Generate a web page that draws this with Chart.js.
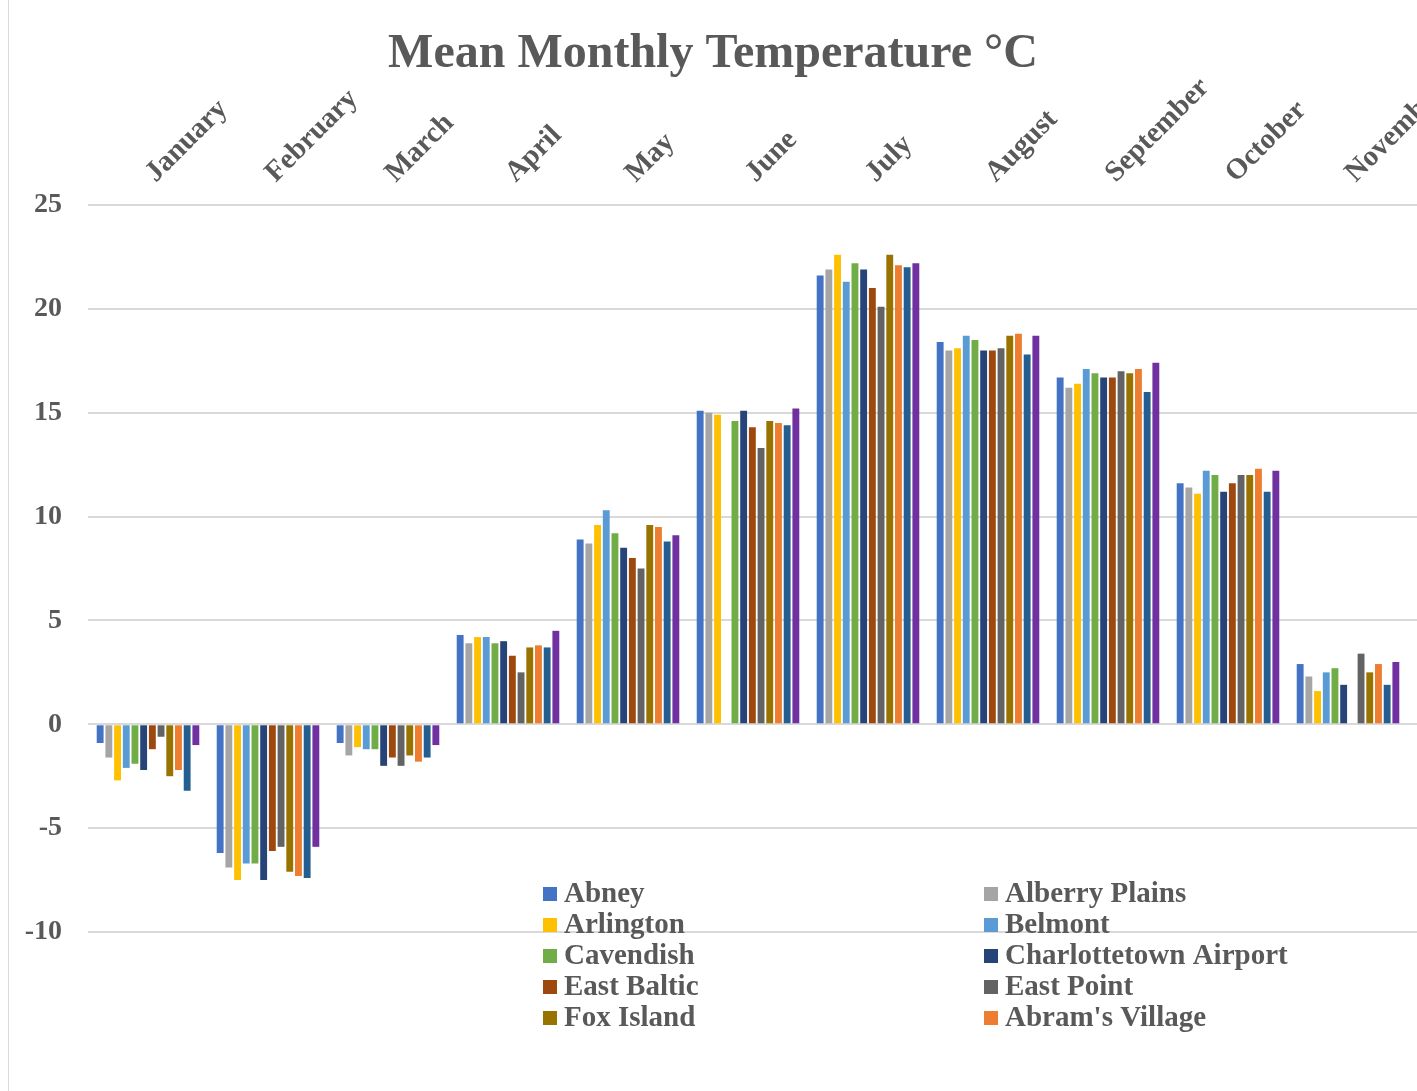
<!DOCTYPE html>
<html>
<head>
<meta charset="utf-8">
<script src="https://cdn.jsdelivr.net/npm/chart.js@4.4.1/dist/chart.umd.min.js"></script>
<style>
  html, body { margin: 0; padding: 0; overflow: hidden; background: #ffffff; width: 1417px; height: 1091px; }
  #wrap { position: relative; width: 1600px; height: 1091px; }
</style>
</head>
<body>
<div id="wrap"><canvas id="c" width="1600" height="1091"></canvas></div>
<script>
// ---------- DATA ----------
const TITLE = 'Mean Monthly Temperature °C';
const months = ['January', 'February', 'March', 'April', 'May', 'June', 'July', 'August', 'September', 'October', 'November', 'December'];
const yTickValues = [25, 20, 15, 10, 5, 0, -5, -10];

const abney          = [-0.9, -6.2, -0.9, 4.3,  8.9, 15.1, 21.6, 18.4, 16.7, 11.6, 2.9, null];
const alberryPlains  = [-1.6, -6.9, -1.5, 3.9,  8.7, 15.0, 21.9, 18.0, 16.2, 11.4, 2.3, null];
const arlington      = [-2.7, -7.5, -1.1, 4.2,  9.6, 14.9, 22.6, 18.1, 16.4, 11.1, 1.6, null];
const belmont        = [-2.1, -6.7, -1.2, 4.2, 10.3, null, 21.3, 18.7, 17.1, 12.2, 2.5, null];
const cavendish      = [-1.9, -6.7, -1.2, 3.9,  9.2, 14.6, 22.2, 18.5, 16.9, 12.0, 2.7, null];
const charlottetown  = [-2.2, -7.5, -2.0, 4.0,  8.5, 15.1, 21.9, 18.0, 16.7, 11.2, 1.9, null];
const eastBaltic     = [-1.2, -6.1, -1.6, 3.3,  8.0, 14.3, 21.0, 18.0, 16.7, 11.6, null, null];
const eastPoint      = [-0.6, -5.9, -2.0, 2.5,  7.5, 13.3, 20.1, 18.1, 17.0, 12.0, 3.4, null];
const foxIsland      = [-2.5, -7.1, -1.5, 3.7,  9.6, 14.6, 22.6, 18.7, 16.9, 12.0, 2.5, null];
const abramsVillage  = [-2.2, -7.3, -1.8, 3.8,  9.5, 14.5, 22.1, 18.8, 17.1, 12.3, 2.9, null];
const series11       = [-3.2, -7.4, -1.6, 3.7,  8.8, 14.4, 22.0, 17.8, 16.0, 11.2, 1.9, null];
const series12       = [-1.0, -5.9, -1.0, 4.5,  9.1, 15.2, 22.2, 18.7, 17.4, 12.2, 3.0, null];

const seriesNames  = ['Abney', 'Alberry Plains', 'Arlington', 'Belmont', 'Cavendish', 'Charlottetown Airport',
                      'East Baltic', 'East Point', 'Fox Island', "Abram's Village", 'Series 11', 'Series 12'];
const seriesValues = [abney, alberryPlains, arlington, belmont, cavendish, charlottetown,
                      eastBaltic, eastPoint, foxIsland, abramsVillage, series11, series12];
const seriesColors = ['#4472C4', '#A5A5A5', '#FFC000', '#5B9BD5', '#70AD47', '#264478',
                      '#9E480E', '#636363', '#997300', '#ED7D31', '#255E91', '#7030A0'];
const legendShown = 10; // the reference legend shows only the first ten entries

// ---------- STYLE ----------
const FONT = '"Liberation Serif", "Times New Roman", Times, serif';
const TEXT = '#595959';

const datasets = seriesNames.map((name, i) => ({
  label: name,
  data: seriesValues[i],
  backgroundColor: seriesColors[i],
  borderWidth: 0,
  barPercentage: 0.79,
  categoryPercentage: 0.87
}));

const framePlugin = {
  id: 'frame',
  beforeDraw(chart) {
    const ctx = chart.ctx;
    ctx.save();
    ctx.fillStyle = '#ffffff';
    ctx.fillRect(0, 0, chart.width, chart.height);
    ctx.strokeStyle = '#d9d9d9';
    ctx.lineWidth = 1;
    ctx.beginPath();
    ctx.moveTo(8.5, 0);
    ctx.lineTo(8.5, chart.height);
    ctx.stroke();
    ctx.restore();
  }
};

const titlePlugin = {
  id: 'titleText',
  afterDraw(chart) {
    const ctx = chart.ctx;
    ctx.save();
    ctx.font = 'bold 48px ' + FONT;
    ctx.fillStyle = TEXT;
    ctx.textAlign = 'center';
    ctx.textBaseline = 'alphabetic';
    ctx.fillText(TITLE, 713, 67);
    ctx.restore();
  }
};

const legendPlugin = {
  id: 'gridLegend',
  afterDraw(chart) {
    const ctx = chart.ctx;
    ctx.save();
    ctx.font = 'bold 29px ' + FONT;
    ctx.textAlign = 'left';
    ctx.textBaseline = 'middle';
    chart.data.datasets.slice(0, legendShown).forEach((ds, i) => {
      const col = i % 2, row = Math.floor(i / 2);
      const mx = col ? 984 : 543;
      const cy = 894 + row * 31;
      ctx.fillStyle = ds.backgroundColor;
      ctx.fillRect(mx, cy - 7, 14, 14);
      ctx.fillStyle = TEXT;
      ctx.fillText(ds.label, mx + 21, cy + 1);
    });
    ctx.restore();
  }
};

new Chart(document.getElementById('c'), {
  type: 'bar',
  data: { labels: months, datasets },
  options: {
    responsive: false,
    animation: false,
    layout: { padding: { left: 0, right: 72, top: 0, bottom: 159 } },
    plugins: { legend: { display: false }, title: { display: false }, tooltip: { enabled: false } },
    scales: {
      x: {
        position: 'top',
        grid: { display: false, drawTicks: false },
        border: { display: false },
        ticks: {
          autoSkip: false, maxRotation: 45, minRotation: 45, padding: 15, labelOffset: 27,
          color: TEXT, font: { family: FONT, size: 29, weight: 'bold' }
        },
        afterFit(scale) { scale.height = 205; }
      },
      y: {
        min: -10, max: 25,
        afterBuildTicks(scale) { scale.ticks = yTickValues.map(v => ({ value: v })); },
        grid: { color: '#d9d9d9', lineWidth: 2, drawTicks: false },
        border: { display: false },
        ticks: {
          padding: 26, color: TEXT,
          font: { family: FONT, size: 28, weight: 'bold' }
        },
        afterFit(scale) { scale.width = 88; }
      }
    }
  },
  plugins: [framePlugin, titlePlugin, legendPlugin]
});
</script>
</body>
</html>
